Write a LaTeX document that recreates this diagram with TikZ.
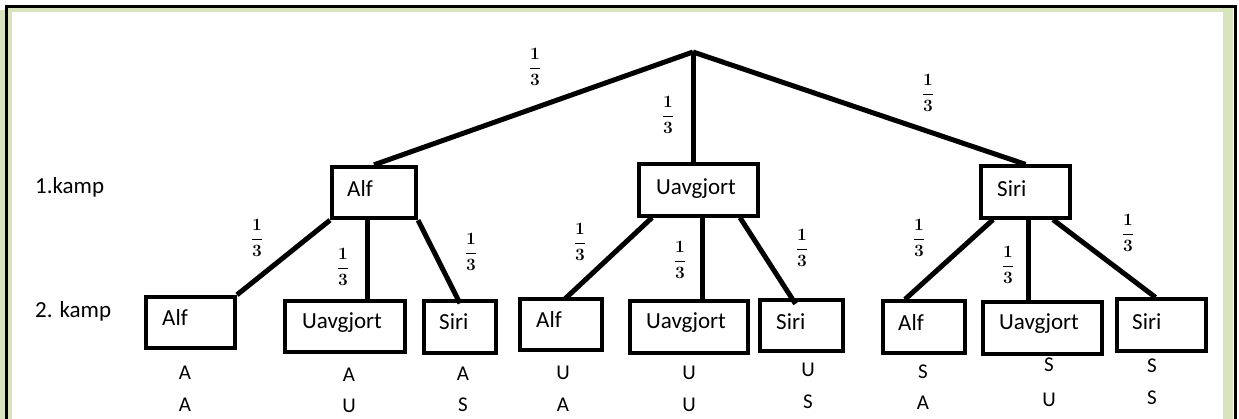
\documentclass[tikz,border=0pt]{standalone}
\usepackage{fontspec}
\setmainfont{Carlito}
\definecolor{olive}{RGB}{215,228,189}
\begin{document}
\begin{tikzpicture}[x=1pt,y=-1pt,
  box/.style={draw,line width=3.8pt,inner sep=0pt,minimum width=#1-3.8pt,minimum height=51.5pt},
  conn/.style={line width=5pt},
  txt/.style={anchor=base west,inner sep=0pt,font=\fontsize{23}{26}\selectfont},
  res/.style={anchor=center,inner sep=0pt,font=\fontsize{21}{24}\selectfont},
  frac/.style={inner sep=0pt,font=\fontsize{17.28}{20}\selectfont\boldmath}]
\useasboundingbox (0,0) rectangle (1239,419);
\clip (0,0) rectangle (1239,419);
% background frame
\fill[olive] (0,10) rectangle (5,419);
\fill[olive] (8,8) rectangle (1233,425);
\fill[white] (12,12) rectangle (1223,425);
\draw[line width=3pt] (6.5,6.5) rectangle (1235.5,440);
% root
\coordinate (root) at (693,52);
% level 1 boxes
\node[box=88]  (alf1) at (374,192.5) {};
\node[box=123] (uav1) at (698.5,190) {};
\node[box=93]  (sir1) at (1025.5,192) {};
% level 2 boxes
\node[box=93]  (aalf) at (190.5,322.5) {};
\node[box=124] (auav) at (345,326.5) {};
\node[box=76]  (asir) at (460,327) {};
\node[box=86]  (ualf) at (561,324.5) {};
\node[box=122] (uuav) at (689,327) {};
\node[box=87]  (usir) at (801.5,325.5) {};
\node[box=86]  (salf) at (924,327) {};
\node[box=123] (suav) at (1042.5,328) {};
\node[box=93]  (ssir) at (1161.5,325) {};
% texts in boxes
\node[txt] (talf1) at (347,197) {Alf};
\node[txt] (tuav1) at (656,195) {Uavgjort};
\node[txt] (tsir1) at (997,197) {Siri};
\node[txt] (taalf) at (162,326) {Alf};
\node[txt] (tauav) at (302,329) {Uavgjort};
\node[txt] (tasir) at (439,330) {Siri};
\node[txt] (tualf) at (536,328) {Alf};
\node[txt] (tuuav) at (646,329) {Uavgjort};
\node[txt] (tusir) at (776,330) {Siri};
\node[txt] (tsalf) at (898,331) {Alf};
\node[txt] (tsuav) at (999,330) {Uavgjort};
\node[txt] (tssir) at (1132,330) {Siri};
% row labels
\node[txt] (k1) at (35,194) {1.kamp};
\node[txt] (k2) at (35,318) {2. kamp};
% connectors level 1
\draw[conn] (root) -- (alf1.north);
\draw[conn] (root) -- (root |- uav1.north);
\draw[conn] (root) -- (sir1.north);
% connectors level 2
\draw[conn] (alf1.south west) -- (aalf.north east);
\draw[conn] ([xshift=-7pt]alf1.south) -- ([xshift=-7pt]alf1.south |- auav.north);
\draw[conn] (alf1.south east) -- ([yshift=-4pt]asir.north);
\draw[conn] ([xshift=15pt]uav1.south west) -- ([xshift=4pt,yshift=-2pt]ualf.north);
\draw[conn] ([xshift=3.5pt]uav1.south) -- ([xshift=3.5pt]uav1.south |- uuav.north);
\draw[conn] ([xshift=-20pt]uav1.south east) -- ([xshift=-6pt,yshift=-6pt]usir.north);
\draw[conn] ([xshift=14pt]sir1.south west) -- ([xshift=-19pt]salf.north);
\draw[conn] ([xshift=2.5pt]sir1.south) -- ([xshift=2.5pt]sir1.south |- suav.north);
\draw[conn] ([xshift=-19pt]sir1.south east) -- ([xshift=-6pt]ssir.north);
% fractions
\node[frac] (f1) at (535,67) {$\displaystyle\frac{1}{3}$};
\node[frac] (f2) at (668,115) {$\displaystyle\frac{1}{3}$};
\node[frac] (f3) at (928,93) {$\displaystyle\frac{1}{3}$};
\node[frac] (fa1) at (257,238) {$\displaystyle\frac{1}{3}$};
\node[frac] (fa2) at (343,267) {$\displaystyle\frac{1}{3}$};
\node[frac] (fa3) at (471,252) {$\displaystyle\frac{1}{3}$};
\node[frac] (fu1) at (580,242) {$\displaystyle\frac{1}{3}$};
\node[frac] (fu2) at (680,260) {$\displaystyle\frac{1}{3}$};
\node[frac] (fu3) at (802,248) {$\displaystyle\frac{1}{3}$};
\node[frac] (fs1) at (919,238) {$\displaystyle\frac{1}{3}$};
\node[frac] (fs2) at (1008,265) {$\displaystyle\frac{1}{3}$};
\node[frac] (fs3) at (1128,233) {$\displaystyle\frac{1}{3}$};
% outcomes
\node[res] (r1a) at (185,373) {A}; \node[res] (r1b) at (185,405) {A};
\node[res] (r2a) at (349,375) {A}; \node[res] (r2b) at (349,406) {U};
\node[res] (r3a) at (463,374) {A}; \node[res] (r3b) at (463,405) {S};
\node[res] (r4a) at (563,373) {U}; \node[res] (r4b) at (563,405) {A};
\node[res] (r5a) at (689,373) {U}; \node[res] (r5b) at (689,405) {U};
\node[res] (r6a) at (808,370) {U}; \node[res] (r6b) at (808,402) {S};
\node[res] (r7a) at (923,372) {S}; \node[res] (r7b) at (923,403) {A};
\node[res] (r8a) at (1049,365) {S}; \node[res] (r8b) at (1049,400) {U};
\node[res] (r9a) at (1152,366) {S}; \node[res] (r9b) at (1152,398) {S};
\end{tikzpicture}
\end{document}
